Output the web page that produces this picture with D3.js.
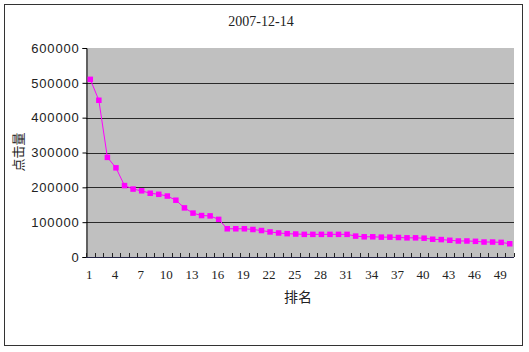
<!DOCTYPE html>
<html>
<head>
<meta charset="utf-8">
<script src="https://cdn.jsdelivr.net/npm/d3@7"></script>
<style>
  body { margin: 0; background: #fff; }
</style>
</head>
<body>
<div id="chart"></div>
<script>
const title = "2007-12-14";
const xTitle = "排名";
const yTitle = "点击量";
const ranks = d3.range(1, 51);
const clicks = [510000, 450000, 286000, 256000, 205000, 195000, 190000, 183000, 180000, 175000,
  163000, 141000, 126000, 119000, 118000, 108000, 81000, 81000, 81000, 79000,
  76000, 72000, 69000, 67000, 66000, 65000, 65000, 65000, 65000, 65000,
  65000, 60000, 58000, 58000, 57000, 57000, 56000, 55000, 55000, 54000,
  51000, 50000, 48000, 46000, 46000, 45000, 43000, 43000, 42000, 38000];
const yTicks = [0, 100000, 200000, 300000, 400000, 500000, 600000];
const xTickLabels = ranks.filter(r => (r - 1) % 3 === 0);

const width = 529, height = 352;
const plot = { left: 86, right: 514, top: 48, bottom: 257 };

const svg = d3.select("#chart").append("svg")
  .attr("width", width)
  .attr("height", height);

// outer frame
svg.append("rect")
  .attr("x", 4.5).attr("y", 4.5)
  .attr("width", 518).attr("height", 341)
  .attr("fill", "#fff")
  .attr("stroke", "#333")
  .attr("stroke-width", 1);

const x = d3.scaleBand()
  .domain(ranks)
  .range([plot.left, plot.right]);

const y = d3.scaleLinear()
  .domain([0, 600000])
  .range([plot.bottom, plot.top]);

// plot background
svg.append("rect")
  .attr("x", plot.left).attr("y", plot.top)
  .attr("width", plot.right - plot.left)
  .attr("height", plot.bottom - plot.top)
  .attr("fill", "#c0c0c0");

// gridlines
svg.append("g")
  .selectAll("line")
  .data(yTicks.filter(d => d > 0 && d < 600000))
  .join("line")
  .attr("x1", plot.left).attr("x2", plot.right)
  .attr("y1", d => Math.round(y(d)) + 0.5)
  .attr("y2", d => Math.round(y(d)) + 0.5)
  .attr("stroke", "#2a2a2a")
  .attr("stroke-width", 1.1);

// y axis
const yAxis = svg.append("g")
  .attr("transform", `translate(${plot.left + 0.5},0)`)
  .call(d3.axisLeft(y).tickValues(yTicks).tickSize(4).tickPadding(3).tickFormat(d3.format("d")));
yAxis.select(".domain").attr("stroke", "#000");
yAxis.selectAll(".tick line").attr("stroke", "#000");
yAxis.selectAll("text")
  .attr("font-family", "Arial, 'Liberation Sans', sans-serif")
  .attr("font-size", 13)
  .attr("letter-spacing", 0.8)
  .attr("fill", "#222");

// x axis: ticks between categories, pointing inward
const bounds = ranks.map(r => x(r)).concat([plot.right]);
const xg = svg.append("g");
xg.selectAll("line.tk")
  .data(bounds)
  .join("line")
  .attr("class", "tk")
  .attr("x1", d => Math.round(d) + 0.5).attr("x2", d => Math.round(d) + 0.5)
  .attr("y1", plot.bottom - 4).attr("y2", plot.bottom)
  .attr("stroke", "#222")
  .attr("stroke-width", 1);
xg.append("line")
  .attr("x1", plot.left).attr("x2", plot.right)
  .attr("y1", plot.bottom + 0.5).attr("y2", plot.bottom + 0.5)
  .attr("stroke", "#222244")
  .attr("stroke-width", 1.2);
xg.selectAll("text")
  .data(xTickLabels)
  .join("text")
  .attr("x", d => x(d) + x.bandwidth() / 2 - 1)
  .attr("y", 279)
  .attr("text-anchor", "middle")
  .attr("font-family", "'Liberation Serif', serif")
  .attr("font-size", 13)
  .attr("fill", "#222")
  .text(d => d);

// series line + markers
const line = d3.line()
  .x((d, i) => x(ranks[i]) + x.bandwidth() / 2)
  .y(d => y(d));

svg.append("path")
  .datum(clicks)
  .attr("d", line)
  .attr("fill", "none")
  .attr("stroke", "#ff00ff")
  .attr("stroke-width", 1);

svg.append("g")
  .selectAll("rect")
  .data(clicks)
  .join("rect")
  .attr("x", (d, i) => x(ranks[i]) + x.bandwidth() / 2 - 2.75)
  .attr("y", d => y(d) - 2.75)
  .attr("width", 5.5).attr("height", 5.5)
  .attr("fill", "#ff00ff");

// titles
svg.append("text")
  .attr("x", 261).attr("y", 26)
  .attr("text-anchor", "middle")
  .attr("font-family", "'Liberation Serif', serif")
  .attr("font-size", 14)
  .attr("fill", "#222")
  .text(title);

svg.append("text")
  .attr("x", 298).attr("y", 302)
  .attr("text-anchor", "middle")
  .attr("font-family", "'Noto Sans CJK SC', sans-serif")
  .attr("font-size", 14)
  .attr("fill", "#222")
  .text(xTitle);

svg.append("text")
  .attr("transform", "translate(23,152) rotate(-90)")
  .attr("text-anchor", "middle")
  .attr("font-family", "'Noto Sans CJK SC', sans-serif")
  .attr("font-size", 13)
  .attr("fill", "#222")
  .text(yTitle);
</script>
</body>
</html>
